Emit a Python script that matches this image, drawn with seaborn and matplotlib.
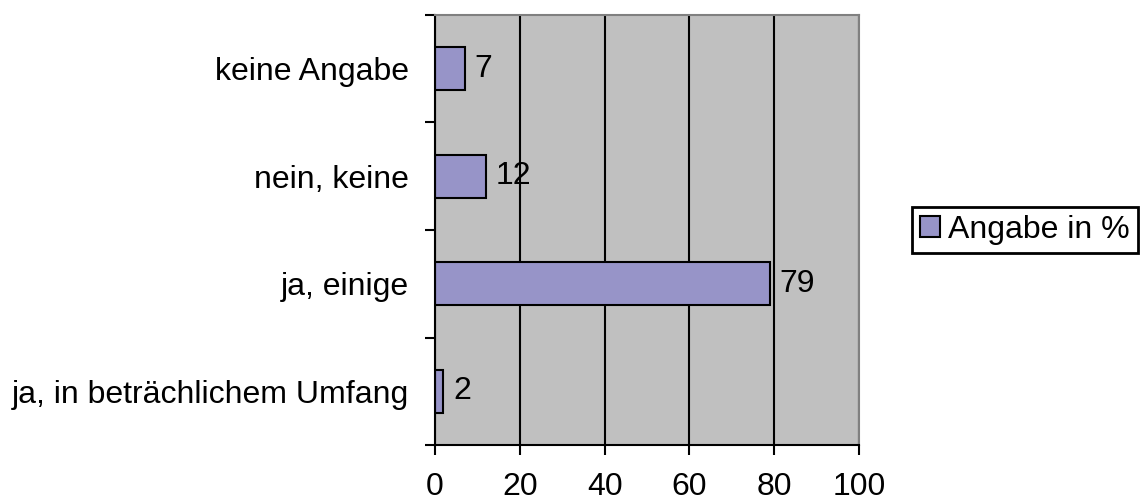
import pandas as pd
import seaborn as sns
import matplotlib.pyplot as plt
from matplotlib.patches import Patch

# data
categories = ['keine Angabe', 'nein, keine', 'ja, einige', 'ja, in beträchlichem Umfang']
values = [7, 12, 79, 2]
x_ticks = [0, 20, 40, 60, 80, 100]
series_name = 'Angabe in %'

df = pd.DataFrame({'Antwort': categories, 'Wert': values})

sns.set_style('white')
plt.rcParams['font.family'] = ['Liberation Sans', 'DejaVu Sans']
plt.rcParams['text.color'] = 'black'
plt.rcParams['xtick.color'] = 'black'
plt.rcParams['ytick.color'] = 'black'
plt.rcParams['xtick.labelcolor'] = 'black'
plt.rcParams['ytick.labelcolor'] = 'black'

fs = 23

fig = plt.figure(figsize=(11.42, 5.03), dpi=100)
ax = fig.add_axes([0.3809, 0.1153, 0.3713, 0.8549])

bar_color = '#9794C8'
sns.barplot(data=df, x='Wert', y='Antwort', order=categories, orient='h',
            color=bar_color, width=0.4, edgecolor='black', linewidth=1.5,
            saturation=1, ax=ax)

ax.set_facecolor('#C0C0C0')
ax.set_xlim(0, 100)
ax.set_ylim(len(categories) - 0.5, -0.5)
ax.set_xticks(x_ticks)
ax.set_xticklabels([str(t) for t in x_ticks], fontsize=fs)
ax.xaxis.grid(True, color='black', linewidth=1.5)
ax.set_axisbelow(True)
ax.tick_params(axis='x', direction='out', length=7.2, width=1.5, pad=12.5, bottom=True)

# category ticks sit between the bars
ax.set_yticks([i - 0.5 for i in range(len(categories) + 1)], minor=True)
ax.tick_params(axis='y', which='minor', direction='out', length=7.2, width=1.5, left=True)
ax.tick_params(axis='y', which='major', length=0, pad=19, labelsize=fs)

ax.set_xlabel('')
ax.set_ylabel('')

for side in ['left', 'bottom']:
    ax.spines[side].set_color('black')
    ax.spines[side].set_linewidth(1.5)
for side in ['top', 'right']:
    ax.spines[side].set_color('#808080')
    ax.spines[side].set_linewidth(1.5)

ax.bar_label(ax.containers[0], labels=[str(v) for v in values], padding=7, fontsize=fs)

handle = Patch(facecolor=bar_color, edgecolor='black', linewidth=1.5)
leg = fig.legend([handle], [series_name], loc='upper left',
                 bbox_to_anchor=(0.7986, 0.5885), fontsize=fs, frameon=True,
                 fancybox=False, framealpha=1, edgecolor='black',
                 handlelength=0.63, handleheight=0.63, handletextpad=0.25,
                 borderpad=0.25, borderaxespad=0)
leg.get_frame().set_linewidth(2)

fig.savefig('out.png', dpi=100)
